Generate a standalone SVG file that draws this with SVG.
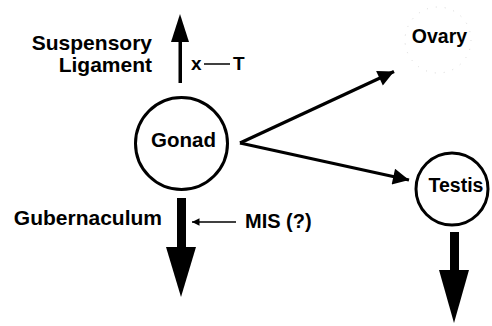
<svg xmlns="http://www.w3.org/2000/svg" width="492" height="326" viewBox="0 0 492 326">
  <style>
    .lbl { font-family: "Liberation Sans", Arial, Helvetica, sans-serif; font-weight: bold; fill: #000; }
    .node { fill: #fff; stroke: #000; stroke-width: 3; }
    .line { stroke: #000; fill: none; stroke-linecap: butt; }
    .head { fill: #000; stroke: none; }
  </style>
  <defs>
    <marker id="tri" viewBox="0 0 10 10" refX="10" refY="5" markerWidth="7" markerHeight="5" orient="auto" markerUnits="strokeWidth">
      <path d="M0,0 L10,5 L0,10 Z" fill="#000"/>
    </marker>
    <marker id="small" viewBox="0 0 10 10" refX="10" refY="5" markerWidth="9" markerHeight="5" orient="auto" markerUnits="strokeWidth">
      <path d="M0,0 L10,5 L0,10 Z" fill="#000"/>
    </marker>
  </defs>

  <rect width="492" height="326" fill="#fff"/>

  <!-- connectors -->
  <g id="connectors">
    <!-- suspensory ligament (up) -->
    <rect x="178.5" y="40" width="3.5" height="43" class="head"/>
    <polygon points="171,42 189,42 180,14" class="head"/>
    <!-- gubernaculum (down) -->
    <rect x="177" y="198" width="9" height="50" class="head"/>
    <polygon points="166,247 196,247 181,297" class="head"/>
    <!-- gonad to ovary / testis -->
    <path d="M240,143 L394,71.5" class="line" stroke-width="3.2" marker-end="url(#tri)"/>
    <path d="M240,143 L409,180" class="line" stroke-width="3.2" marker-end="url(#tri)"/>
    <!-- testis descent -->
    <rect x="450" y="232" width="9" height="39" class="head"/>
    <polygon points="439,270 469,270 454,323" class="head"/>
    <!-- MIS influence -->
    <path d="M236,222 L192,222" class="line" stroke-width="1.5" marker-end="url(#small)"/>
    <!-- X — T -->
    <path d="M204,64 L230,64" class="line" stroke-width="1.5"/>
  </g>

  <!-- nodes -->
  <g id="gonad">
    <circle cx="181.5" cy="143.5" r="46" class="node"/>
    <text x="183.5" y="147" class="lbl" font-size="20.5" text-anchor="middle">Gonad</text>
  </g>

  <g id="ovary">
    <circle cx="438" cy="40" r="33" fill="none" stroke="#d8d8d8" stroke-width="1" stroke-dasharray="1 8"/>
    <text x="439.5" y="43" class="lbl" font-size="19.5" text-anchor="middle">Ovary</text>
  </g>

  <g id="testis">
    <circle cx="452" cy="189" r="36" class="node"/>
    <text x="456" y="192" class="lbl" font-size="19.5" text-anchor="middle">Testis</text>
  </g>

  <!-- labels -->
  <g id="labels">
    <text x="152" y="50" class="lbl" font-size="21" text-anchor="end">Suspensory</text>
    <text x="152" y="72" class="lbl" font-size="21" text-anchor="end">Ligament</text>
    <text x="191" y="70" class="lbl" font-size="19">x</text>
    <text x="233" y="70" class="lbl" font-size="19">T</text>
    <text x="162" y="225" class="lbl" font-size="21" text-anchor="end">Gubernaculum</text>
    <text x="245" y="228" class="lbl" font-size="20">MIS (?)</text>
  </g>
</svg>
